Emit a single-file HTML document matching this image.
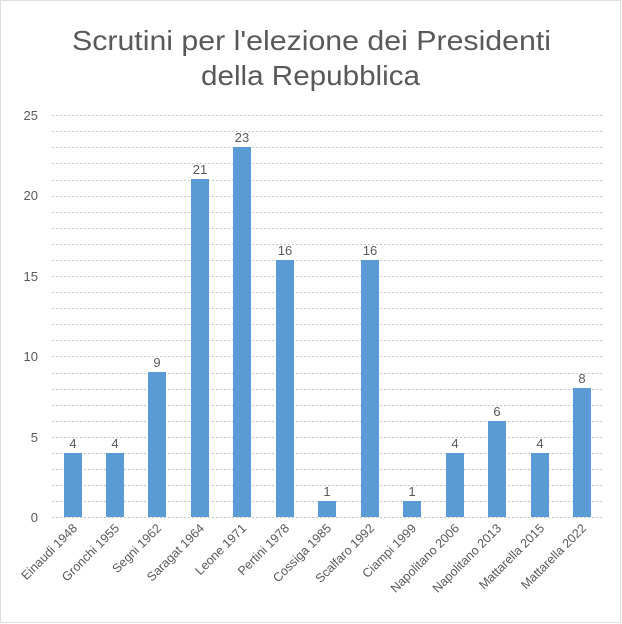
<!DOCTYPE html>
<html><head><meta charset="utf-8"><style>
body{margin:0;background:#fff}
svg{display:block}
text{font-family:"Liberation Sans",sans-serif;fill:#595959}
</style></head><body>
<svg width="622" height="624" xmlns="http://www.w3.org/2000/svg">
<rect x="0.5" y="0.5" width="620" height="622" fill="#fff" stroke="#bbb" stroke-dasharray="1,1"/>
<text x="72" y="50" font-size="28" textLength="479" lengthAdjust="spacingAndGlyphs">Scrutini per l'elezione dei Presidenti</text>
<text x="201" y="85" font-size="28" textLength="219" lengthAdjust="spacingAndGlyphs">della Repubblica</text>
<g stroke="#c8c8c8" stroke-dasharray="2,2" stroke-width="1">
<line x1="52" x2="603" y1="517.5" y2="517.5"/><line x1="52" x2="603" y1="501.5" y2="501.5"/><line x1="52" x2="603" y1="485.5" y2="485.5"/><line x1="52" x2="603" y1="469.5" y2="469.5"/><line x1="52" x2="603" y1="453.5" y2="453.5"/><line x1="52" x2="603" y1="437.5" y2="437.5"/><line x1="52" x2="603" y1="421.5" y2="421.5"/><line x1="52" x2="603" y1="405.5" y2="405.5"/><line x1="52" x2="603" y1="389.5" y2="389.5"/><line x1="52" x2="603" y1="373.5" y2="373.5"/><line x1="52" x2="603" y1="356.5" y2="356.5"/><line x1="52" x2="603" y1="340.5" y2="340.5"/><line x1="52" x2="603" y1="324.5" y2="324.5"/><line x1="52" x2="603" y1="308.5" y2="308.5"/><line x1="52" x2="603" y1="292.5" y2="292.5"/><line x1="52" x2="603" y1="276.5" y2="276.5"/><line x1="52" x2="603" y1="260.5" y2="260.5"/><line x1="52" x2="603" y1="244.5" y2="244.5"/><line x1="52" x2="603" y1="228.5" y2="228.5"/><line x1="52" x2="603" y1="212.5" y2="212.5"/><line x1="52" x2="603" y1="196.5" y2="196.5"/><line x1="52" x2="603" y1="180.5" y2="180.5"/><line x1="52" x2="603" y1="163.5" y2="163.5"/><line x1="52" x2="603" y1="147.5" y2="147.5"/><line x1="52" x2="603" y1="131.5" y2="131.5"/><line x1="52" x2="603" y1="115.5" y2="115.5"/>
</g>
<g font-size="13" text-anchor="end">
<text x="38" y="522">0</text><text x="38" y="442">5</text><text x="38" y="361">10</text><text x="38" y="281">15</text><text x="38" y="200">20</text><text x="38" y="120">25</text>
</g>
<g fill="#5b9bd5">
<rect x="64" y="453" width="18" height="64"/>
<rect x="106" y="453" width="18" height="64"/>
<rect x="148" y="372" width="18" height="145"/>
<rect x="191" y="179" width="18" height="338"/>
<rect x="233" y="147" width="18" height="370"/>
<rect x="276" y="260" width="18" height="257"/>
<rect x="318" y="501" width="18" height="16"/>
<rect x="361" y="260" width="18" height="257"/>
<rect x="403" y="501" width="18" height="16"/>
<rect x="446" y="453" width="18" height="64"/>
<rect x="488" y="421" width="18" height="96"/>
<rect x="531" y="453" width="18" height="64"/>
<rect x="573" y="388" width="18" height="129"/>
</g>
<g font-size="13" text-anchor="middle">
<text x="73" y="448">4</text><text x="115" y="448">4</text><text x="157" y="367">9</text><text x="200" y="174">21</text><text x="242" y="142">23</text><text x="285" y="255">16</text><text x="327" y="496">1</text><text x="370" y="255">16</text><text x="412" y="496">1</text><text x="455" y="448">4</text><text x="497" y="416">6</text><text x="540" y="448">4</text><text x="582" y="383">8</text>
</g>
<g font-size="12.5" text-anchor="end">
<text transform="translate(78,529) rotate(-45)">Einaudi 1948</text>
<text transform="translate(120,529) rotate(-45)">Gronchi 1955</text>
<text transform="translate(162,529) rotate(-45)">Segni 1962</text>
<text transform="translate(205,529) rotate(-45)">Saragat 1964</text>
<text transform="translate(247,529) rotate(-45)">Leone 1971</text>
<text transform="translate(290,529) rotate(-45)">Pertini 1978</text>
<text transform="translate(332,529) rotate(-45)">Cossiga 1985</text>
<text transform="translate(375,529) rotate(-45)">Scalfaro 1992</text>
<text transform="translate(417,529) rotate(-45)">Ciampi 1999</text>
<text transform="translate(460,529) rotate(-45)">Napolitano 2006</text>
<text transform="translate(502,529) rotate(-45)">Napolitano 2013</text>
<text transform="translate(545,529) rotate(-45)">Mattarella 2015</text>
<text transform="translate(587,529) rotate(-45)">Mattarella 2022</text>
</g>
</svg>
</body></html>
